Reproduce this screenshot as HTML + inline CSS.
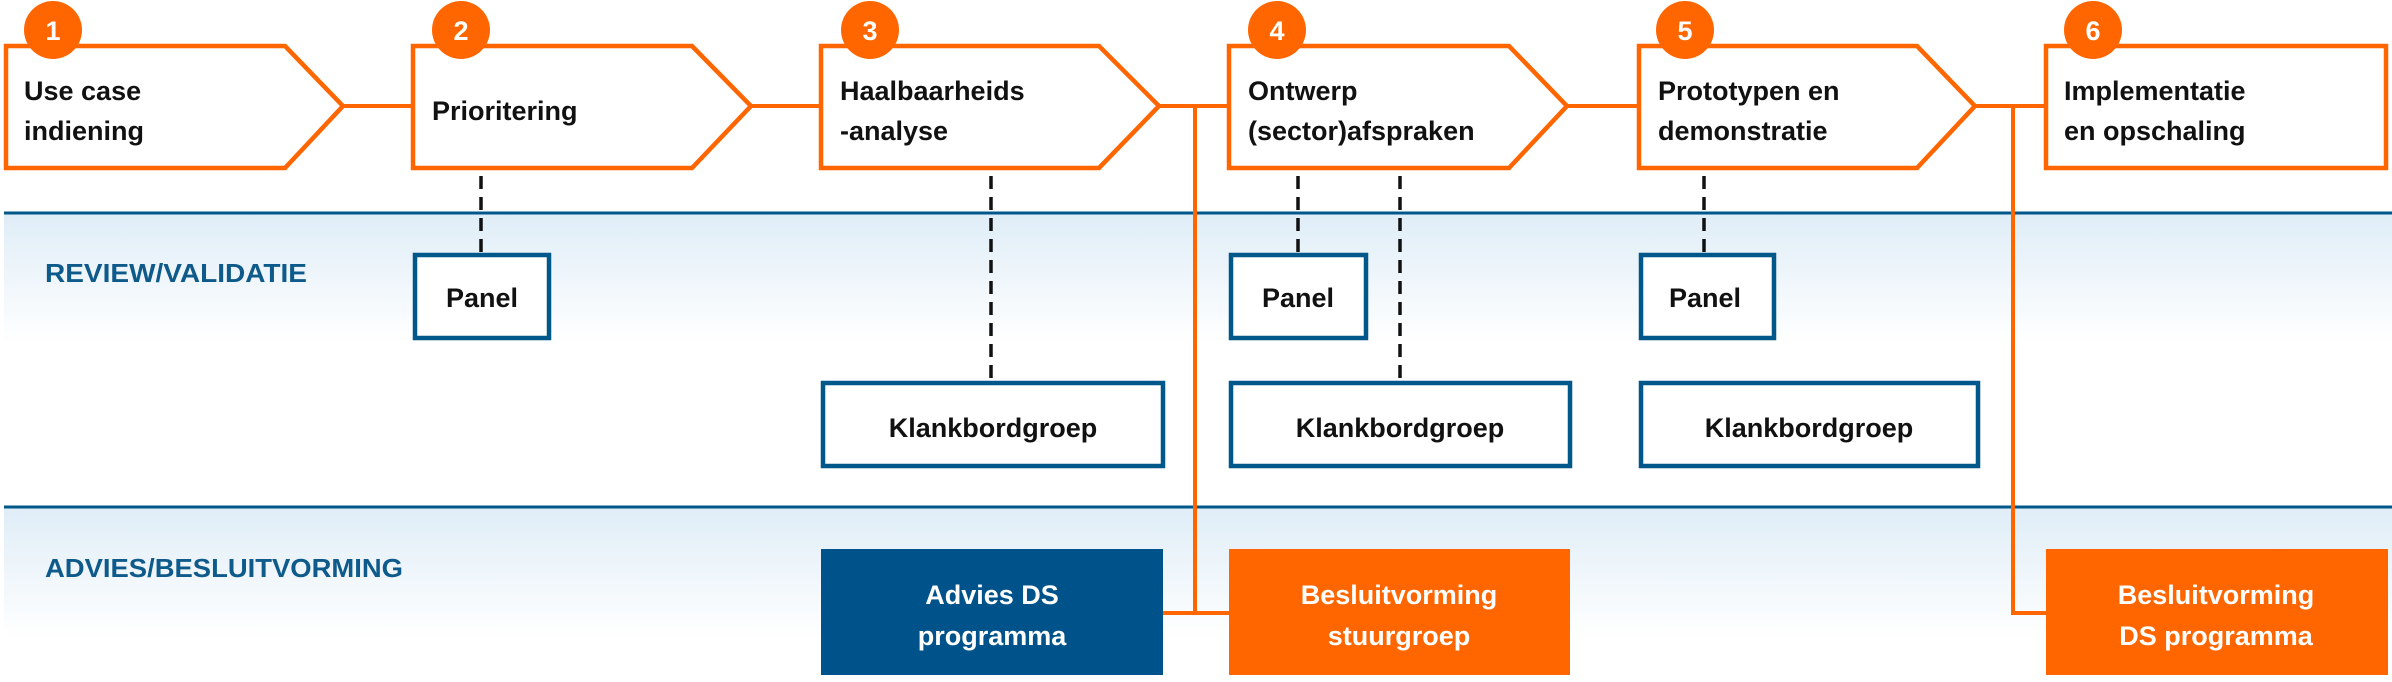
<!DOCTYPE html>
<html><head><meta charset="utf-8"><style>
html,body{margin:0;padding:0;background:#fff;}
svg{display:block;}
text{font-family:"Liberation Sans",sans-serif;font-weight:bold;}
</style></head><body>
<svg width="2392" height="682" viewBox="0 0 2392 682" xmlns="http://www.w3.org/2000/svg">
<defs>
<linearGradient id="g" x1="0" y1="0" x2="0" y2="1">
<stop offset="0" stop-color="#dfedf7"/><stop offset="1" stop-color="#ffffff"/>
</linearGradient>
</defs>
<rect x="4" y="213" width="2388" height="130" fill="url(#g)"/>
<rect x="4" y="507" width="2388" height="130" fill="url(#g)"/>
<line x1="4" y1="213" x2="2392" y2="213" stroke="#00578a" stroke-width="3"/>
<line x1="4" y1="507" x2="2392" y2="507" stroke="#00578a" stroke-width="3"/>
<text x="45" y="282" font-size="26" fill="#0e5a8a" textLength="262" lengthAdjust="spacingAndGlyphs">REVIEW/VALIDATIE</text>
<text x="45" y="577" font-size="26" fill="#0e5a8a" textLength="358" lengthAdjust="spacingAndGlyphs">ADVIES/BESLUITVORMING</text>

<g stroke="#ff6600" stroke-width="4" fill="none">
<line x1="343" y1="106" x2="413" y2="106"/>
<line x1="751" y1="106" x2="821" y2="106"/>
<line x1="1159" y1="106" x2="1229" y2="106"/>
<line x1="1567" y1="106" x2="1639" y2="106"/>
<line x1="1975" y1="106" x2="2046" y2="106"/>
<polyline points="1195,106 1195,613 1163,613"/>
<line x1="1195" y1="613" x2="1229" y2="613"/>
<polyline points="2013,106 2013,613 2046,613"/>
</g>
<g stroke="#ff6600" stroke-width="4.5" fill="#fff">
<polygon points="6,46 285,46 343,106 285,168 6,168"/>
<polygon points="413,46 692,46 751,106 692,168 413,168"/>
<polygon points="821,46 1099,46 1159,106 1099,168 821,168"/>
<polygon points="1229,46 1509,46 1567,106 1509,168 1229,168"/>
<polygon points="1639,46 1917,46 1975,106 1917,168 1639,168"/>
<rect x="2046" y="46" width="340" height="122"/>
</g>
<g fill="#ff6600">
<circle cx="53" cy="30" r="29"/><circle cx="461" cy="30" r="29"/><circle cx="870" cy="30" r="29"/>
<circle cx="1277" cy="30" r="29"/><circle cx="1685" cy="30" r="29"/><circle cx="2093" cy="30" r="29"/>
</g>
<g fill="#fff" font-size="27" text-anchor="middle">
<text x="53" y="40">1</text><text x="461" y="40">2</text><text x="870" y="40">3</text>
<text x="1277" y="40">4</text><text x="1685" y="40">5</text><text x="2093" y="40">6</text>
</g>
<g fill="#111" font-size="27">
<text x="24" y="100">Use case</text><text x="24" y="140">indiening</text>
<text x="432" y="120">Prioritering</text>
<text x="840" y="100">Haalbaarheids</text><text x="840" y="140">-analyse</text>
<text x="1248" y="100">Ontwerp</text><text x="1248" y="140">(sector)afspraken</text>
<text x="1658" y="100">Prototypen en</text><text x="1658" y="140">demonstratie</text>
<text x="2064" y="100">Implementatie</text><text x="2064" y="140">en  opschaling</text>
</g>

<g stroke="#111" stroke-width="3.5" stroke-dasharray="13,8">
<line x1="481" y1="176" x2="481" y2="253"/>
<line x1="991" y1="176" x2="991" y2="381"/>
<line x1="1298" y1="176" x2="1298" y2="253"/>
<line x1="1400" y1="176" x2="1400" y2="381"/>
<line x1="1704" y1="176" x2="1704" y2="253"/>
</g>

<g stroke="#00578a" stroke-width="4.5" fill="#fff">
<rect x="415" y="255" width="134" height="83"/>
<rect x="823" y="383" width="340" height="83"/>
<rect x="1231" y="255" width="135" height="83"/>
<rect x="1231" y="383" width="339" height="83"/>
<rect x="1641" y="255" width="133" height="83"/>
<rect x="1641" y="383" width="337" height="83"/>
</g>
<rect x="821" y="549" width="342" height="126" fill="#00538a"/>
<rect x="1229" y="549" width="341" height="126" fill="#ff6600"/>
<rect x="2046" y="549" width="342" height="126" fill="#ff6600"/>

<g fill="#111" font-size="27" text-anchor="middle">
<text x="482" y="307">Panel</text>
<text x="993" y="437">Klankbordgroep</text>
<text x="1298" y="307">Panel</text>
<text x="1400" y="437">Klankbordgroep</text>
<text x="1705" y="307">Panel</text>
<text x="1809" y="437">Klankbordgroep</text>
</g>
<g fill="#fff" font-size="27" text-anchor="middle">
<text x="992" y="604">Advies DS</text><text x="992" y="645">programma</text>
<text x="1399" y="604">Besluitvorming</text><text x="1399" y="645">stuurgroep</text>
<text x="2216" y="604">Besluitvorming</text><text x="2216" y="645">DS programma</text>
</g>
</svg>
</body></html>
